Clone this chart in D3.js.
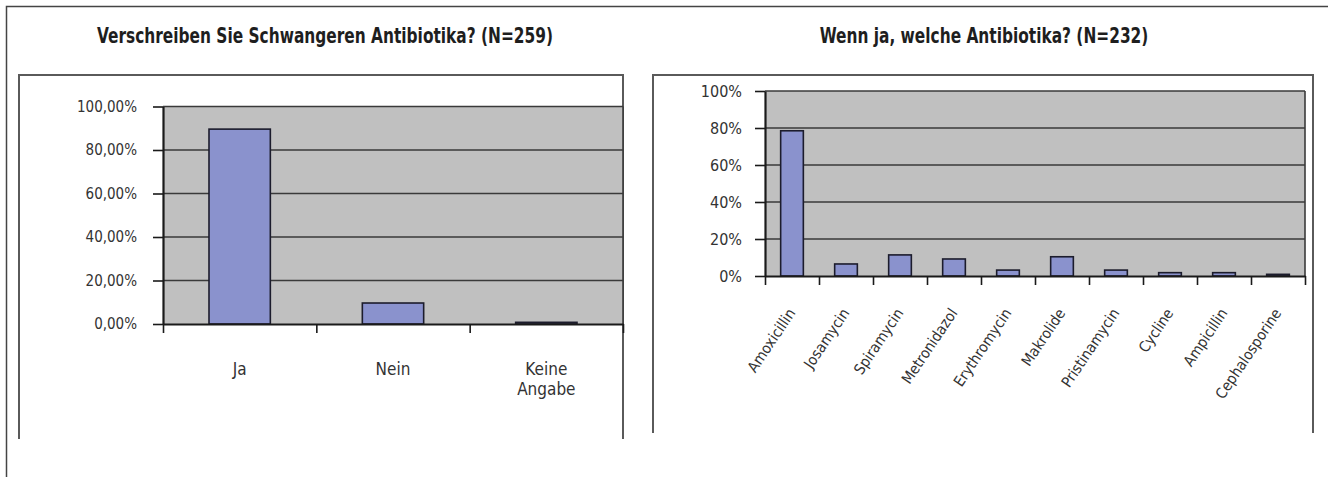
<!DOCTYPE html>
<html><head><meta charset="utf-8">
<script src="https://cdn.jsdelivr.net/npm/d3@7"></script>
<style>
html,body{margin:0;padding:0;background:#fff;}
svg{display:block;}
text{font-family:"Liberation Sans Narrow","Arial Narrow","DejaVu Sans Condensed",sans-serif;}
</style></head><body>
<svg id="chart" width="1328" height="477"></svg>
<script>
// Survey: antibiotic prescriptions for pregnant patients
const leftTitle = "Verschreiben Sie Schwangeren Antibiotika? (N=259)";
const leftCategories = ["Ja", "Nein", "Keine Angabe"];
const leftValues = [0.896, 0.0965, 0.0077];
const leftTicks = [0, 0.2, 0.4, 0.6, 0.8, 1];

const rightTitle = "Wenn ja, welche Antibiotika? (N=232)";
const rightCategories = ["Amoxicillin", "Josamycin", "Spiramycin", "Metronidazol", "Erythromycin",
  "Makrolide", "Pristinamycin", "Cycline", "Ampicillin", "Cephalosporine"];
const rightValues = [0.785, 0.065, 0.114, 0.092, 0.032, 0.104, 0.032, 0.018, 0.018, 0.009];
const rightTicks = [0, 0.2, 0.4, 0.6, 0.8, 1];

const de = d3.formatLocale({decimal: ",", thousands: ".", grouping: [3], currency: ["", " €"]});

const svg = d3.select("#chart");

// outer page frame (left and top edges)
svg.append("path")
  .attr("d", "M6.5,477 V6.5 H1328")
  .attr("fill", "none").attr("stroke", "#444").attr("stroke-width", 1.5);

function panel(cfg) {
  const g = svg.append("g");
  const f = cfg.frame;
  // panel frame: open at the bottom
  g.append("path")
    .attr("d", `M${f.x},${f.y + f.h} V${f.y} H${f.x + f.w} V${f.y + f.h}`)
    .attr("fill", "none").attr("stroke", "#5a5a5a").attr("stroke-width", 2);

  // title
  const t = svg.append("text")
    .attr("x", cfg.titleX).attr("y", cfg.titleY)
    .attr("text-anchor", "middle")
    .attr("font-family", "'Open Sans', sans-serif")
    .attr("font-size", 21).attr("font-weight", 600).attr("fill", "#1e1e1e")
    .text(cfg.title);
  cfg.titleNode = t;

  const p = cfg.plot;
  const y = d3.scaleLinear().domain([0, 1]).range([p.y1, p.y0]);
  const n = cfg.categories.length;
  const xb = d3.scaleBand().domain(cfg.categories).range([p.x0, p.x1])
    .paddingInner(cfg.pad).paddingOuter(cfg.pad / 2);
  const xEdge = d3.scaleLinear().domain([0, n]).range([p.x0, p.x1]);

  g.append("rect")
    .attr("x", p.x0).attr("y", p.y0).attr("width", p.x1 - p.x0).attr("height", p.y1 - p.y0)
    .attr("fill", "#c0c0c0");

  // gridlines
  g.append("g").selectAll("line").data(cfg.ticks.filter(d => d > 0)).join("line")
    .attr("x1", p.x0).attr("x2", p.x1)
    .attr("y1", d => y(d)).attr("y2", d => y(d))
    .attr("stroke", "#3a3a3a").attr("stroke-width", 1.6);
  g.append("line")
    .attr("x1", p.x1).attr("x2", p.x1).attr("y1", p.y0).attr("y2", p.y1)
    .attr("stroke", "#3a3a3a").attr("stroke-width", 1.6);

  // bars
  g.append("g").selectAll("rect").data(cfg.values).join("rect")
    .attr("x", (d, i) => xb(cfg.categories[i]))
    .attr("width", xb.bandwidth())
    .attr("y", d => y(d))
    .attr("height", d => y(0) - y(d))
    .attr("fill", "#8a92cd").attr("stroke", "#1c1c2c").attr("stroke-width", 1.6);

  // y axis
  const ya = g.append("g").attr("transform", `translate(${p.x0},0)`)
    .call(d3.axisLeft(y).tickValues(cfg.ticks).tickSize(10).tickSizeOuter(0)
      .tickPadding(cfg.tickPad).tickFormat(cfg.fmt));
  ya.select(".domain").attr("stroke", "#1a1a1a").attr("stroke-width", 2.2);
  ya.selectAll(".tick line").attr("stroke", "#1a1a1a").attr("stroke-width", 1.6);
  ya.selectAll(".tick text")
    .attr("font-family", null).attr("font-size", cfg.ySize).attr("fill", "#333");

  // x axis (ticks at category boundaries)
  const xa = g.append("g").attr("transform", `translate(0,${p.y1})`)
    .call(d3.axisBottom(xEdge).tickValues(d3.range(n + 1)).tickSize(9).tickSizeOuter(0).tickFormat(""));
  xa.select(".domain").attr("stroke", "#1a1a1a").attr("stroke-width", 2.2);
  xa.selectAll(".tick line").attr("stroke", "#1a1a1a").attr("stroke-width", 1.6);

  return {g, xb, y};
}

const L = {
  title: leftTitle, titleX: 325, titleY: 43,
  frame: {x: 19, y: 75, w: 604, h: 364},
  plot: {x0: 163, x1: 623, y0: 106.5, y1: 324},
  categories: leftCategories, values: leftValues, ticks: leftTicks,
  pad: 0.6, tickPad: 16, ySize: 15, fmt: de.format(".2%")
};
const R = {
  title: rightTitle, titleX: 984, titleY: 43,
  frame: {x: 653, y: 75, w: 660, h: 358},
  plot: {x0: 765, x1: 1305, y0: 91, y1: 276},
  categories: rightCategories, values: rightValues, ticks: rightTicks,
  pad: 0.58, tickPad: 13, ySize: 16, fmt: de.format(".0%")
};

const lp = panel(L);
const rp = panel(R);

// fit both titles to the same condensed width
const lw = L.titleNode.node().getComputedTextLength();
const rw = R.titleNode.node().getComputedTextLength();
const k = 456 / lw;
L.titleNode.attr("textLength", 456).attr("lengthAdjust", "spacingAndGlyphs");
R.titleNode.attr("textLength", rw * k).attr("lengthAdjust", "spacingAndGlyphs");

// left category labels, wrapped on spaces
lp.g.append("g").selectAll("text").data(leftCategories).join("text")
  .attr("text-anchor", "middle").attr("font-size", 17).attr("fill", "#333")
  .each(function (d) {
    const cx = lp.xb(d) + lp.xb.bandwidth() / 2;
    d3.select(this).selectAll("tspan").data(d.split(" ")).join("tspan")
      .attr("x", cx).attr("y", (w, i) => 375 + i * 20).text(w => w);
  });

// right category labels, rotated
rp.g.append("g").selectAll("text").data(rightCategories).join("text")
  .attr("text-anchor", "end").attr("font-size", 15).attr("fill", "#333")
  .attr("transform", d => `translate(${rp.xb(d) + rp.xb.bandwidth() / 2 + 4},313) rotate(-56)`)
  .text(d => d);
</script>
</body></html>
